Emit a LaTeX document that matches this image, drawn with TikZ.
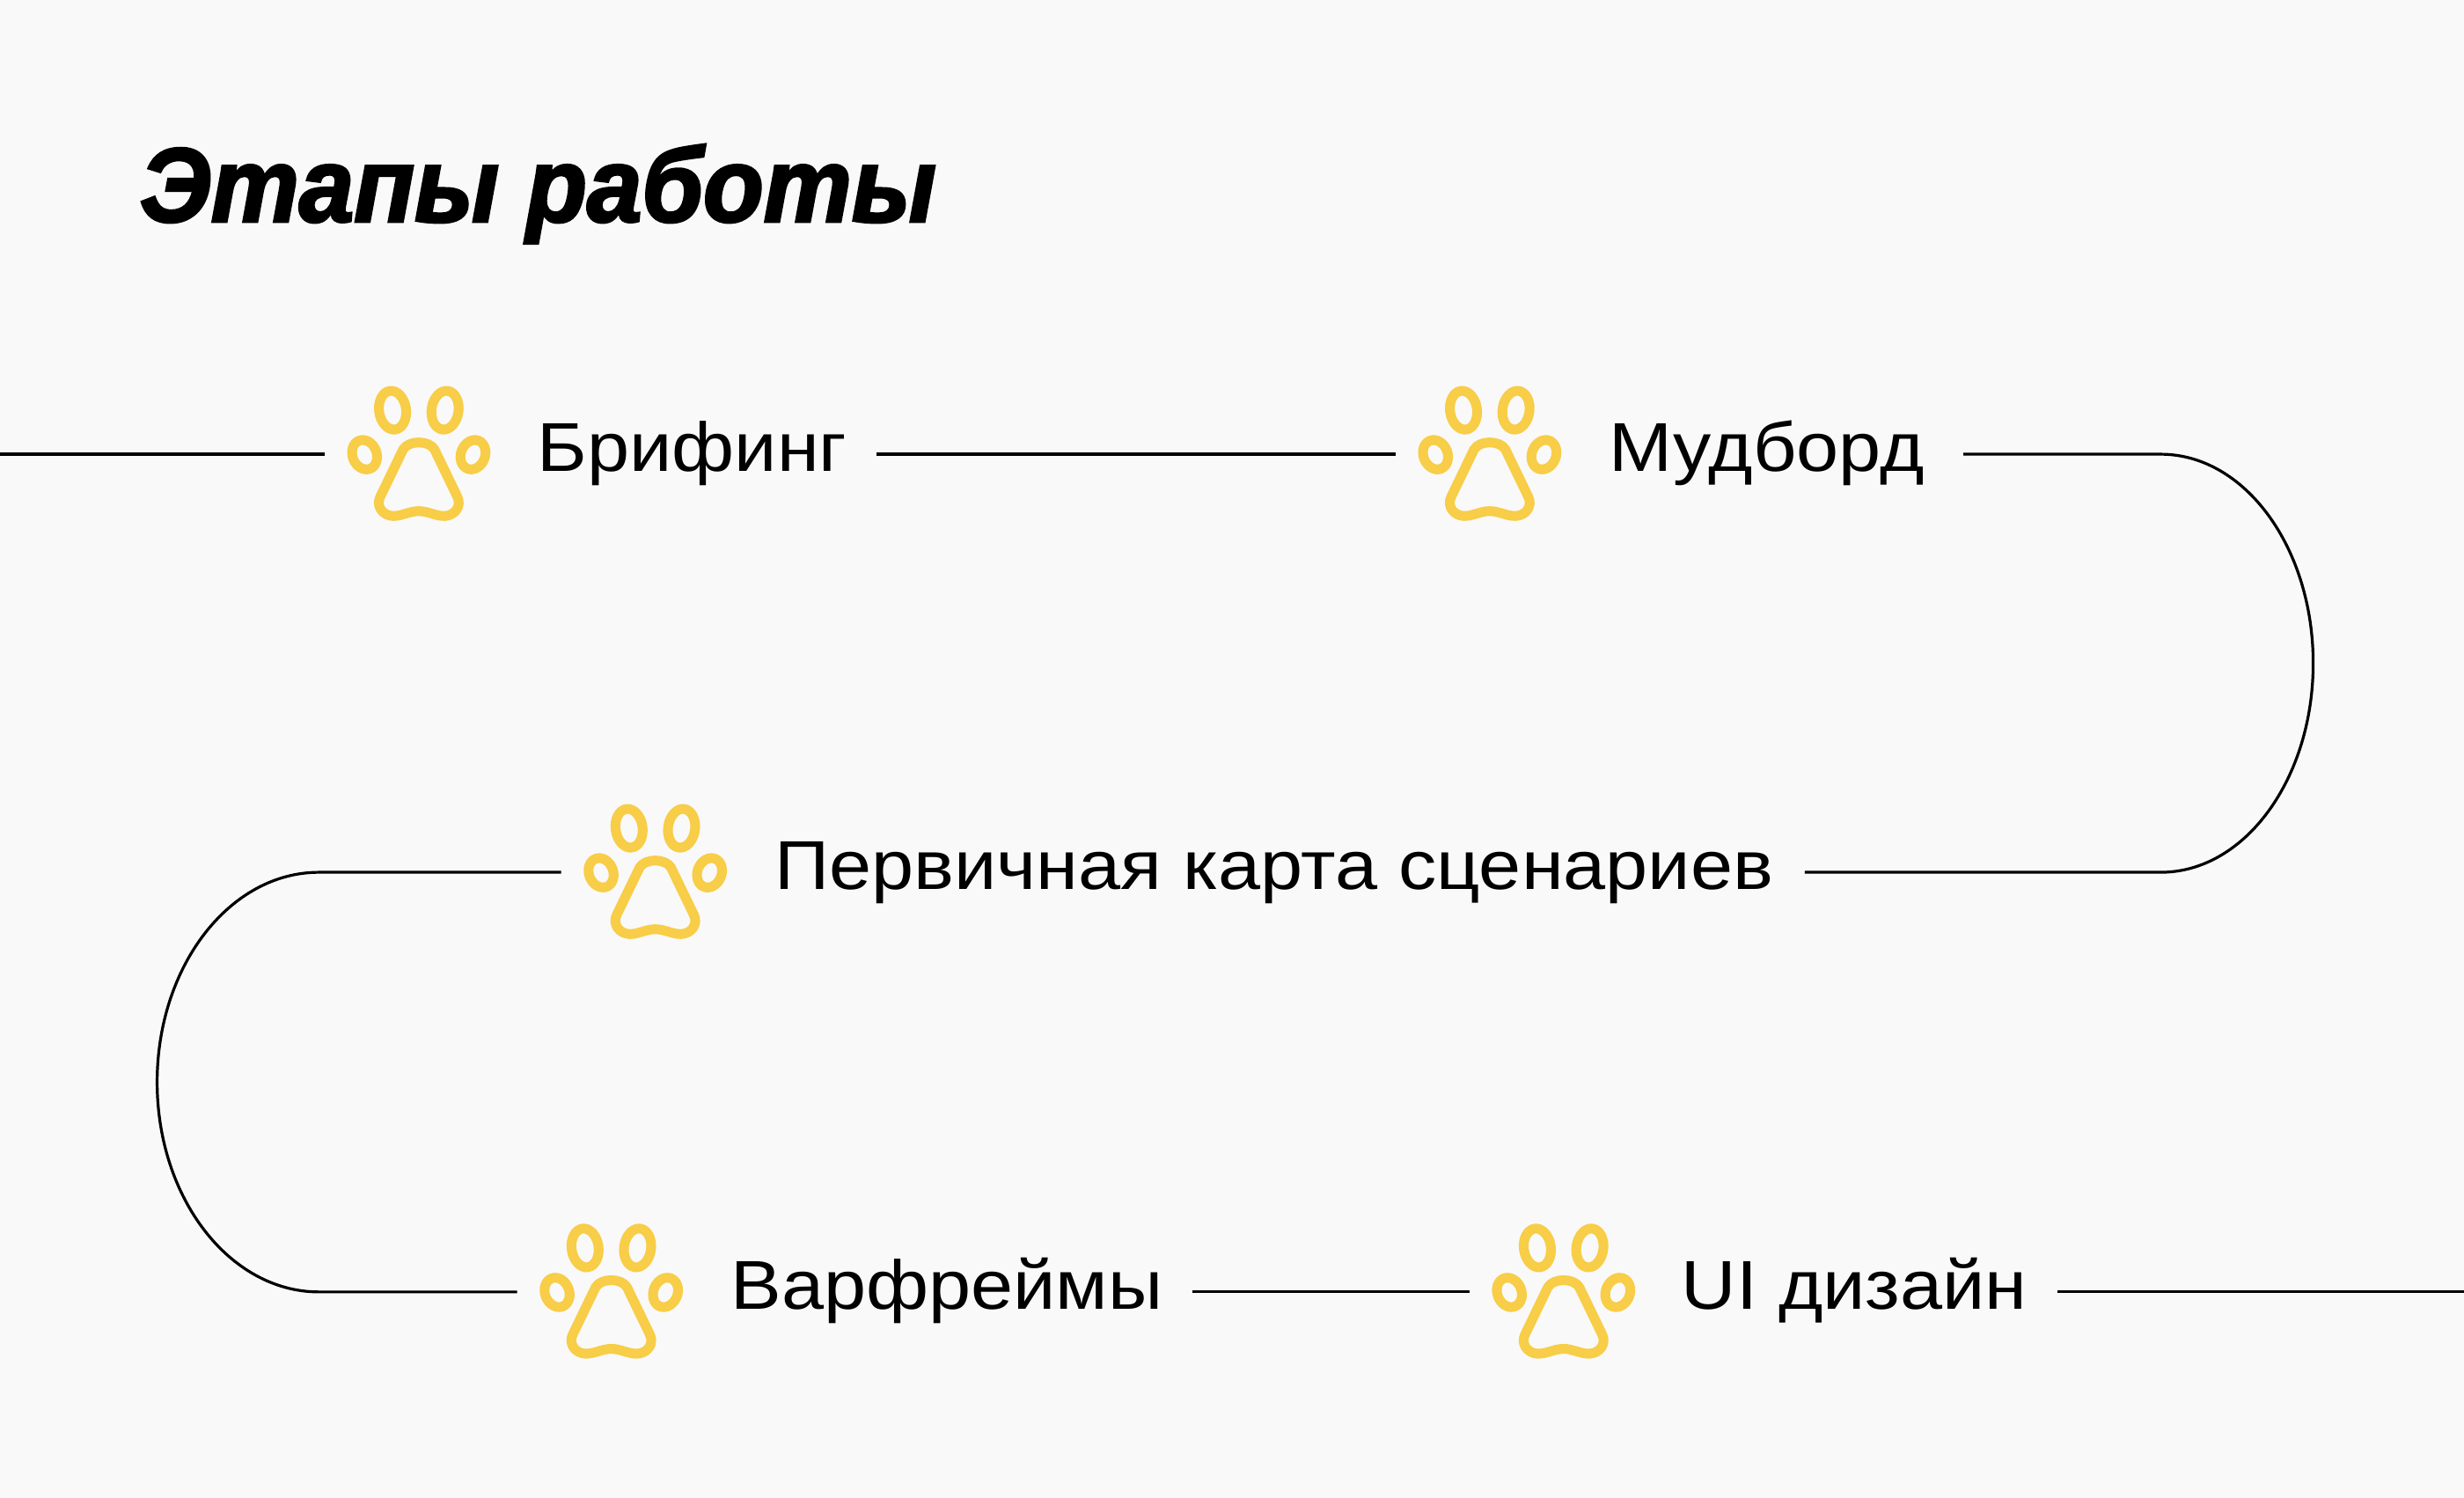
\documentclass[tikz,border=0pt]{standalone}
\usepackage{fontspec}
\setmainfont{Liberation Sans}
\newfontfamily\labelfont{Liberation Sans}[FakeStretch=1.1]
\newfontfamily\titlefont{Liberation Sans}[BoldItalicFeatures={FakeBold=2.5,FakeStretch=0.94}]
\definecolor{pawyellow}{HTML}{F8CD47}
\definecolor{bgcol}{HTML}{F9F9F9}
\begin{document}
\begin{tikzpicture}[x=1pt,y=-1pt,
  conn/.style={draw=black, line width=1.8pt},
  pawbox/.style={minimum width=120pt, minimum height=86pt, inner sep=0pt, outer sep=0pt},
  stagelabel/.style={anchor=base west, inner sep=0pt, outer sep=0pt, font=\labelfont\fontsize{44}{50}\selectfont},
  titlelabel/.style={anchor=base west, inner sep=0pt, outer sep=0pt, font=\titlefont\fontsize{67}{75}\selectfont\bfseries\itshape},
  paw/.pic={
    \begin{scope}[draw=pawyellow, line width=6.2pt, line join=round]
      \draw[shift={(-16.7,-27)}, rotate=8] (0,0) ellipse [x radius=8.6, y radius=12.4];
      \draw[shift={(16.7,-27)}, rotate=-8] (0,0) ellipse [x radius=8.6, y radius=12.4];
      \draw[shift={(-34.5,1.3)}, rotate=22] (0,0) ellipse [x radius=7.7, y radius=9.6];
      \draw[shift={(34.5,1.3)}, rotate=-22] (0,0) ellipse [x radius=7.7, y radius=9.6];
      \draw (0,37.2) .. controls (-6,37.2) and (-11,40.5) .. (-16.5,40.3)
        .. controls (-23,40) and (-27.5,34) .. (-24.5,28) -- (-10,-2)
        .. controls (-6.5,-8) and (6.5,-8) .. (10,-2) -- (24.5,28)
        .. controls (27.5,34) and (23,40) .. (16.5,40.3)
        .. controls (11,40.5) and (6,37.2) .. (0,37.2) -- cycle;
    \end{scope}
  }]
  \fill[bgcol] (0,0) rectangle (1568,953);
  \useasboundingbox (0,0) rectangle (1568,953);

  \node[titlelabel] (title) at (89,141) {Этапы работы};

  % paws
  \node[pawbox] (p1) at (266.5,289) {};
  \node[pawbox] (p2) at (948,289) {};
  \node[pawbox] (p3) at (417,555) {};
  \node[pawbox] (p4) at (389,822) {};
  \node[pawbox] (p5) at (995,822) {};
  \foreach \p in {p1,p2,p3,p4,p5} {
    \pic at ([yshift=1pt]\p.center) {paw};
  }

  % labels
  \node[stagelabel] (t1) at (342,300) {Брифинг};
  \node[stagelabel] (t2) at (1024,300) {Мудборд};
  \node[stagelabel] (t3) at (493,566) {Первичная карта сценариев};
  \node[stagelabel] (t4) at (465,833) {Варфреймы};
  \node[stagelabel] (t5) at (1070,833) {UI дизайн};

  % connector helpers
  \coordinate (L0) at (0,289);
  \coordinate (cr) at (1375,289);
  \coordinate (cl) at (203,555);
  \coordinate (R3) at (1568,822);

  \draw[conn] (L0) -- (p1.west);
  \draw[conn, shorten <=19pt] (t1.east |- p1.center) -- (p2.west);
  \draw[conn, shorten <=25pt, shorten >=20pt] (t2.east |- p2.center) -- (cr)
     arc[start angle=-90, end angle=90, x radius=97, y radius=133] -- (t3.east |- p3.center);
  \draw[conn] (p3.west) -- (cl)
     arc[start angle=-90, end angle=-270, x radius=103, y radius=133.5] -- (p4.west);
  \draw[conn, shorten <=19pt] (t4.east |- p4.center) -- (p5.west);
  \draw[conn, shorten <=19pt] (t5.east |- p5.center) -- (R3);
\end{tikzpicture}
\end{document}
